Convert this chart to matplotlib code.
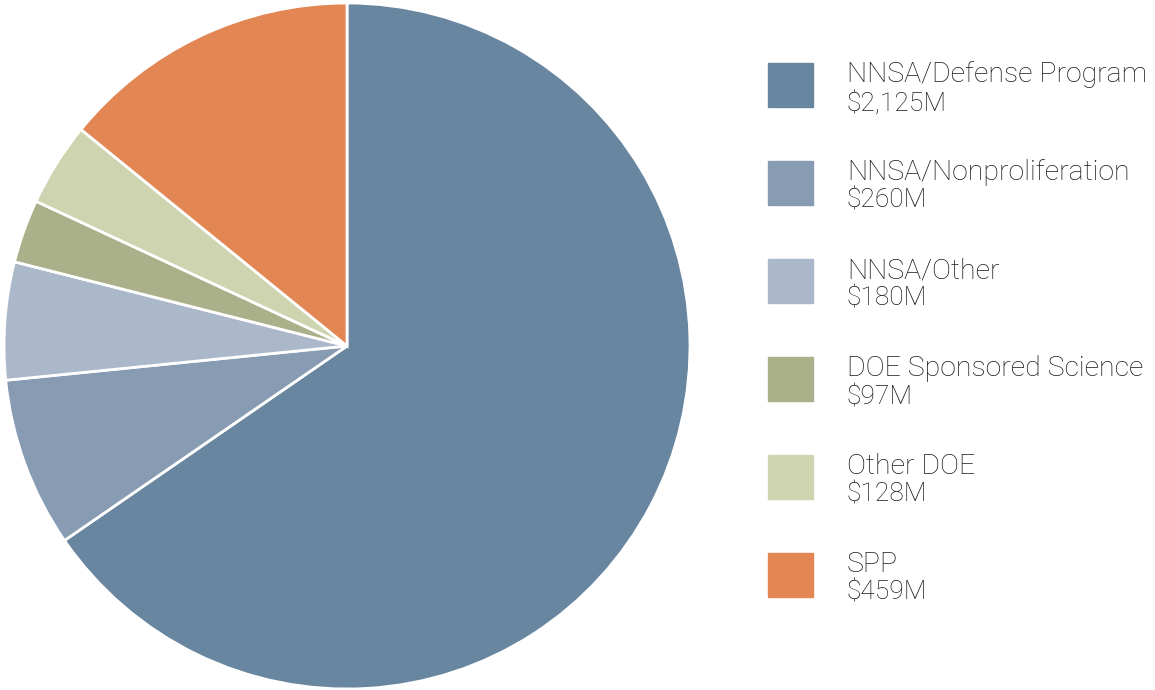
import matplotlib.pyplot as plt
from matplotlib.patches import Rectangle

labels = ["NNSA/Defense Program", "NNSA/Nonproliferation", "NNSA/Other",
          "DOE Sponsored Science", "Other DOE", "SPP"]
values = [2125, 260, 180, 97, 128, 459]
value_text = ["$2,125M", "$260M", "$180M", "$97M", "$128M", "$459M"]
colors = ["#6886a0", "#879cb3", "#abb8c9", "#aab089", "#cfd4b0", "#e28654"]

W, H = 1155, 690
fig = plt.figure(figsize=(W / 100, H / 100), dpi=100)

# pie: center ~(347,346) px, radius ~343 px
ax = fig.add_axes([4 / W, 1 / H, 686 / W, 686 / H])
ax.pie(values, colors=colors, startangle=90, counterclock=False,
       wedgeprops=dict(edgecolor="white", linewidth=2))
ax.set_aspect("equal")
ax.set_xlim(-1, 1)
ax.set_ylim(-1, 1)
ax.axis("off")

# legend drawn by hand
for i, (lab, vt, c) in enumerate(zip(labels, value_text, colors)):
    top = 63 + i * 98
    fig.patches.append(Rectangle((768 / W, 1 - (top + 44) / H), 45 / W, 44 / H,
                                 transform=fig.transFigure, color=c))
    fig.text(847 / W, 1 - (top + 12) / H, lab, fontsize=20.5, family="Roboto",
             weight="light", va="center", ha="left", color="#1a1a1a")
    fig.text(847 / W, 1 - (top + 40) / H, vt, fontsize=19, family="Roboto",
             weight="light", va="center", ha="left", color="#1a1a1a")

fig.savefig("out.png", dpi=100)
